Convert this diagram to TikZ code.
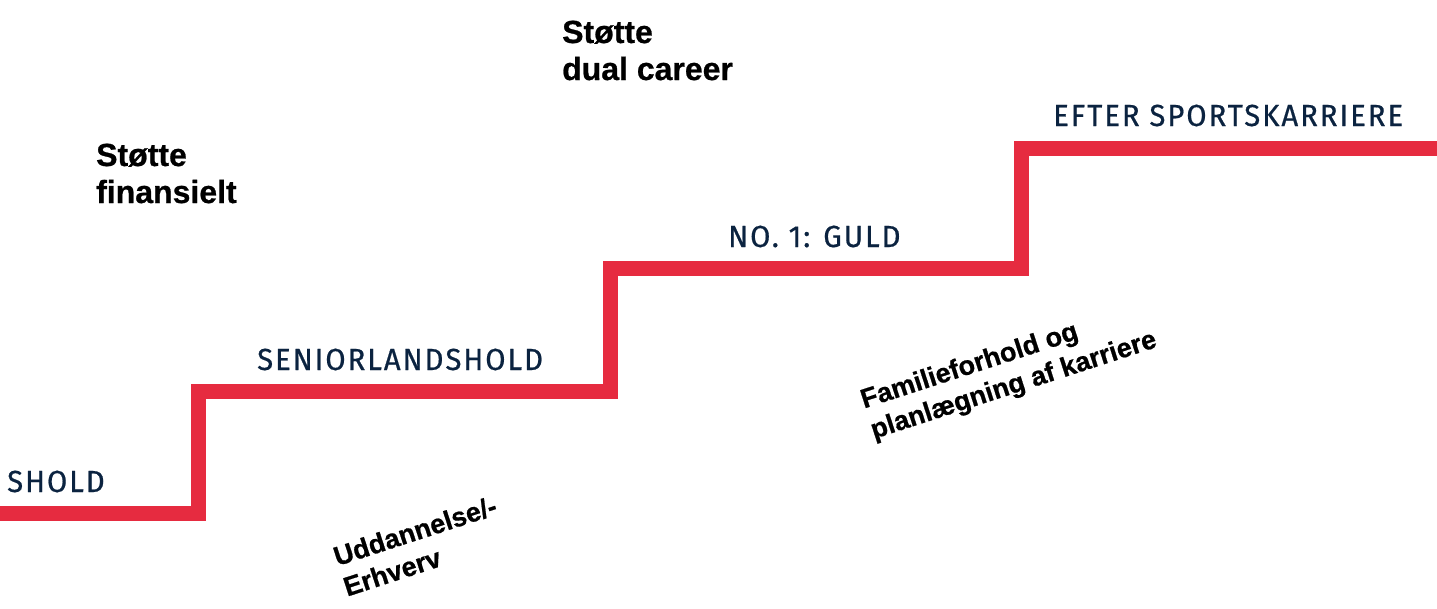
\documentclass[tikz,border=0pt]{standalone}
\usepackage{fontspec}
\setmainfont{Liberation Sans}
\newfontfamily\heavyfont[BoldFeatures={FakeBold=0.7}]{Liberation Sans}
\newfontfamily\capsfont[FakeStretch=0.96,LetterSpace=6.5,FakeBold=0.6]{Fira Sans}
\definecolor{stepred}{HTML}{E62B40}
\definecolor{navy}{HTML}{0B2340}
\begin{document}
\begin{tikzpicture}[x=1pt,y=-1pt,
  steplabel/.style={inner sep=0pt,anchor=base west,text=navy,font=\capsfont\fontsize{30.5}{34}\selectfont},
  support/.style={inner sep=0pt,anchor=base west,align=left,text=black,font=\heavyfont\bfseries\fontsize{32}{37}\selectfont},
  angled/.style={inner sep=0pt,anchor=center,align=left,rotate=18,text=black,font=\heavyfont\bfseries\fontsize{27}{32}\selectfont},
  stairs/.style={draw=stepred,line width=15pt,miter limit=10}]
\useasboundingbox (0,0) rectangle (1437,608);
\coordinate (s0) at (-10,513);
\coordinate (s1) at (198,513);
\coordinate (s2) at (198,391);
\coordinate (s3) at (610,391);
\coordinate (s4) at (610,268);
\coordinate (s5) at (1021.5,268);
\coordinate (s6) at (1021.5,148);
\coordinate (s7) at (1447,148);
\draw[stairs] (s0) -- (s1) -- (s2) -- (s3) -- (s4) -- (s5) -- (s6) -- (s7);
\node[steplabel] (l1) at (7,492) {SHOLD};
\node[steplabel] (l2) at (257,370) {SENIORLANDSHOLD};
\node[steplabel] (l3) at (728,247) {NO. 1: GULD};
\node[steplabel] (l4) at (1053,126) {EFTER SPORTSKARRIERE};
\node[support] (t1) at (96,203) {Støtte\\finansielt};
\node[support] (t2) at (562,80) {Støtte\\dual career};
\node[angled] (r1) at (420,546) {Uddannelse/-\\Erhverv};
\node[angled] (r2) at (1009,371) {Familieforhold og\\planlægning af karriere};
\end{tikzpicture}
\end{document}
